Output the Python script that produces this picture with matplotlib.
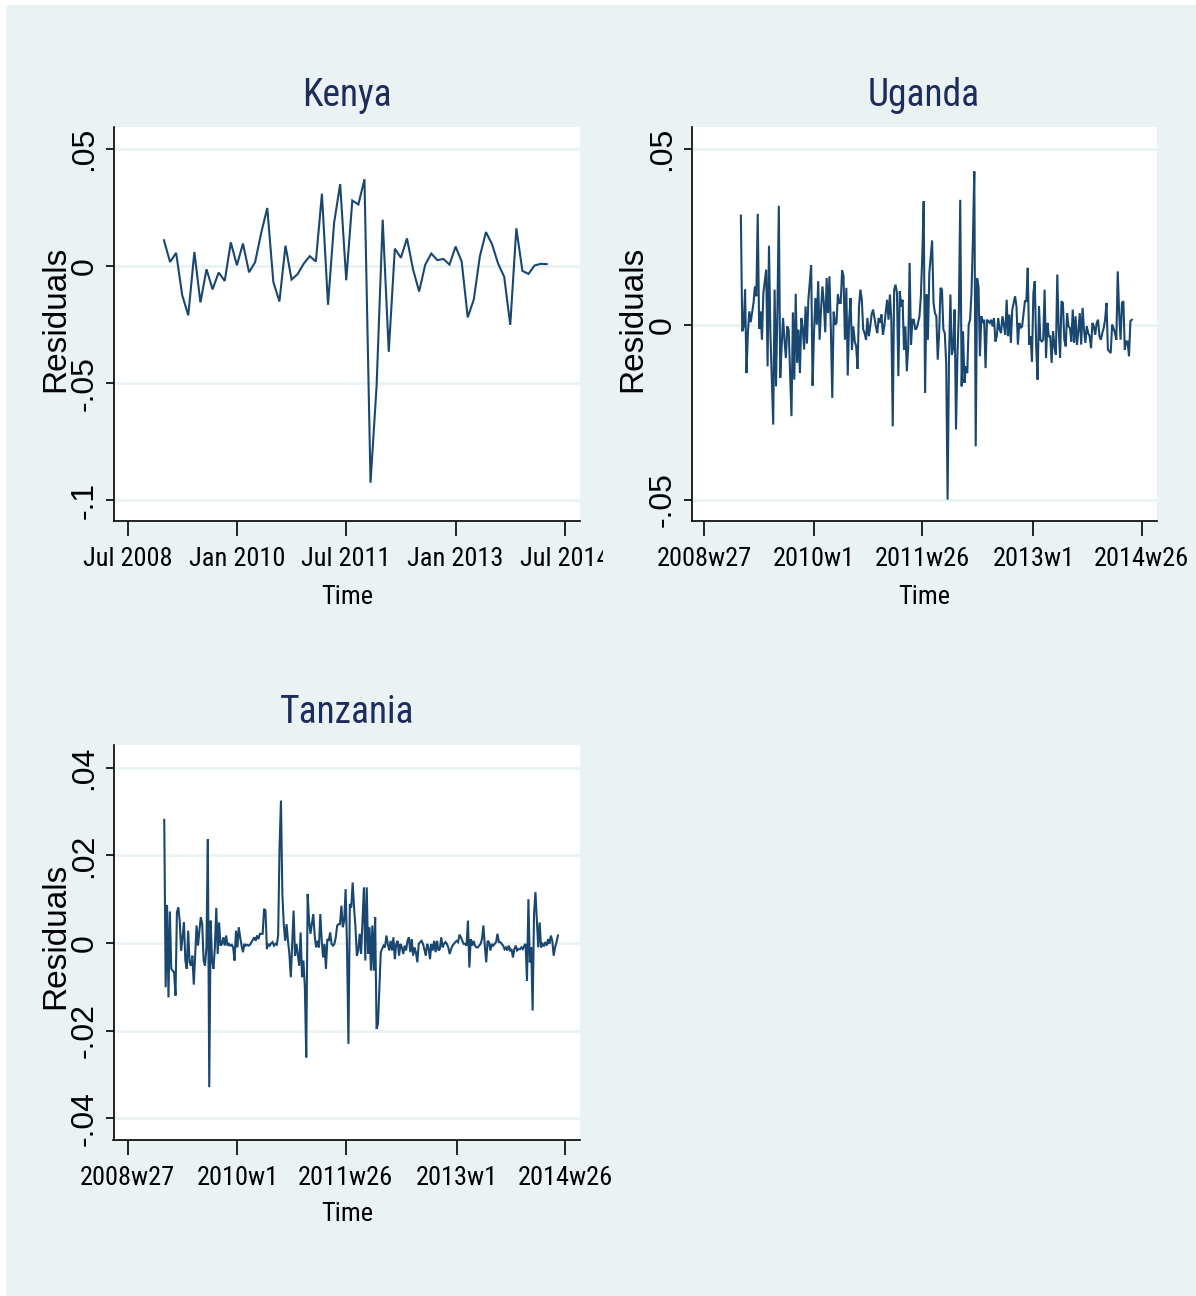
import numpy as np
import matplotlib
matplotlib.use("Agg")
import matplotlib.pyplot as plt
from matplotlib import font_manager
from matplotlib.patches import Rectangle
from matplotlib.transforms import Bbox, TransformedBbox

# ---------------- data ----------------
kenya_start = 588          # Stata monthly date: 2009m1
kenya_resid = [
    0.0111, 0.0018, 0.0057, -0.0124, -0.0210, 0.0061, -0.0155, -0.0013, -0.0099, -0.0027,
    -0.0063, 0.0102, 0.0004, 0.0097, -0.0026, 0.0017, 0.0142, 0.0249, -0.0067, -0.0151,
    0.0088, -0.0057, -0.0034, 0.0011, 0.0043, 0.0020, 0.0310, -0.0165, 0.0185, 0.0351,
    -0.0060, 0.0281, 0.0264, 0.0372, -0.0926, -0.0511, 0.0199, -0.0366, 0.0075, 0.0036,
    0.0119, -0.0014, -0.0108, 0.0006, 0.0054, 0.0026, 0.0031, 0.0007, 0.0084, 0.0020,
    -0.0219, -0.0142, 0.0043, 0.0146, 0.0094, 0.0011, -0.0045, -0.0251, 0.0162, -0.0020,
    -0.0033, 0.0003, 0.0010, 0.0009]
kenya_xticks = [582, 600, 618, 636, 654]
kenya_xlabels = ["Jul 2008", "Jan 2010", "Jul 2011", "Jan 2013", "Jul 2014"]
kenya_yticks = [-0.1, -0.05, 0, 0.05]
kenya_ylabels = ["-.1", "-.05", "0", ".05"]

uganda_start = 2548        # Stata weekly date: 2009w1
uganda_resid = [
    0.0311, -0.0019, -0.0005, 0.0100, -0.0138, -0.0024, 0.0038, 0.0007, 0.0035, 0.0062, 0.0109,
    0.0081, 0.0316, -0.0012, 0.0038, -0.0043, 0.0090, 0.0124, 0.0157, -0.0119, 0.0225, -0.0024,
    -0.0157, -0.0285, 0.0100, -0.0176, 0.0043, 0.0339, -0.0152, -0.0062, 0.0019, -0.0043,
    -0.0095, -0.0005, -0.0014, -0.0138, -0.0261, 0.0035, -0.0157, 0.0088, -0.0109, -0.0014,
    -0.0138, 0.0019, -0.0010, -0.0071, 0.0052, -0.0054, 0.0071, 0.0120, 0.0170, -0.0174, -0.0024,
    0.0076, 0.0000, 0.0124, -0.0043, 0.0043, 0.0109, 0.0062, -0.0022, 0.0133, 0.0033,
    0.0138, -0.0014, -0.0209, 0.0037, 0.0000, 0.0005, 0.0086, 0.0062, 0.0062, 0.0155,
    0.0138, -0.0043, 0.0105, -0.0145, 0.0014, 0.0076, -0.0071, -0.0005, -0.0048, -0.0062,
    -0.0126, 0.0052, 0.0100, 0.0071, -0.0014, -0.0024, -0.0043, 0.0019, -0.0033,
    -0.0005, 0.0029, 0.0043, 0.0020, -0.0005, -0.0024, 0.0019, 0.0005, 0.0029, -0.0029,
    -0.0005, 0.0035,
    0.0071, 0.0014, 0.0086, 0.0014, -0.0290, 0.0100, 0.0114, 0.0090, -0.0147, 0.0095,
    0.0052, 0.0071, -0.0071, -0.0005, -0.0133, -0.0062, 0.0176, -0.0057, 0.0014, 0.0014,
    -0.0014, -0.0010, 0.0005, 0.0024, 0.0081, 0.0195, 0.0352, -0.0195, 0.0086, -0.0043,
    0.0147, 0.0195, 0.0240, 0.0062, 0.0033, 0.0024, -0.0100, -0.0024, 0.0105, 0.0100,
    -0.0014, -0.0024, -0.0109, -0.0499, -0.0100, 0.0086, -0.0086, -0.0067, 0.0043, -0.0299,
    -0.0090, 0.0033, 0.0356, -0.0176, -0.0019, -0.0166, -0.0119, -0.0138, 0.0000, 0.0014,
    0.0090, 0.0242, 0.0437, -0.0347, 0.0133, 0.0109, -0.0090, 0.0024, 0.0005, 0.0014,
    -0.0124, 0.0014, 0.0010, 0.0005, 0.0014, -0.0005, 0.0019, -0.0048, -0.0033, 0.0019,
    -0.0014,
    -0.0024, 0.0024, 0.0000, -0.0029, 0.0071, -0.0033, 0.0029, -0.0052, 0.0043, 0.0062, 0.0081,
    0.0052, -0.0057, 0.0005, -0.0010, -0.0005, 0.0030, 0.0067, 0.0067, 0.0162, -0.0057, -0.0033,
    -0.0105, 0.0090, 0.0124, -0.0062, -0.0157, 0.0052, -0.0043, -0.0048, -0.0043, 0.0100,
    -0.0095, 0.0005, -0.0033, -0.0033, -0.0109, -0.0019, -0.0062, -0.0086, 0.0143, -0.0010,
    -0.0095, 0.0067, 0.0062, -0.0043, -0.0062, 0.0033, -0.0005, -0.0010, -0.0048,
    0.0043, -0.0052, 0.0024, -0.0057, -0.0019, 0.0033, -0.0057, 0.0048, -0.0014,
    -0.0052, -0.0005, -0.0024, -0.0033, -0.0067, 0.0005, -0.0005, -0.0029, 0.0005, 0.0014,
    -0.0033, -0.0043, -0.0024, -0.0010, 0.0014, 0.0062, -0.0071, -0.0076, -0.0081,
    0.0000, -0.0010, -0.0024, -0.0043, 0.0152, 0.0033, -0.0043, 0.0062, 0.0067, -0.0071,
    -0.0048, -0.0048, -0.0090, 0.0010, 0.0014]
weekly_xticks = [2522, 2600, 2677, 2756, 2833]
weekly_xlabels = ["2008w27", "2010w1", "2011w26", "2013w1", "2014w26"]
uganda_yticks = [-0.05, 0, 0.05]
uganda_ylabels = ["-.05", "0", ".05"]

tanzania_start = 2548      # Stata weekly date: 2009w1
tanzania_resid = [
    0.0281, -0.0101, 0.0087, -0.0124, 0.0072, -0.0059, -0.0063, -0.0067, -0.0120, 0.0070,
    0.0081, 0.0051, -0.0017, 0.0013, 0.0047, -0.0040, -0.0059, 0.0028, -0.0044, -0.0052,
    -0.0029, -0.0095, -0.0025, 0.0040, -0.0006, 0.0028, 0.0059, 0.0043, -0.0040, -0.0052,
    -0.0010, 0.0237, -0.0329, 0.0051, -0.0040, -0.0059, -0.0010, 0.0080, -0.0025, 0.0047,
    -0.0006, -0.0002, 0.0013, -0.0006, 0.0017, -0.0006, -0.0002, -0.0006, -0.0004, -0.0010,
    -0.0040, 0.0028, -0.0010, 0.0036, 0.0013, -0.0006, -0.0021, -0.0002, -0.0006, -0.0004,
    -0.0006, -0.0004, 0.0002, 0.0007, 0.0013, 0.0005, 0.0017, 0.0009, 0.0021, 0.0021,
    0.0021, 0.0078, 0.0074, -0.0014, -0.0002, -0.0006, -0.0001, 0.0002, -0.0006, -0.0002,
    -0.0004, 0.0017, 0.0218, 0.0325, 0.0112, 0.0043, 0.0005, 0.0043, 0.0005, -0.0025,
    -0.0078, 0.0000,
    0.0074, -0.0029, -0.0002, -0.0027, -0.0052, 0.0024, -0.0078, -0.0040, -0.0101, -0.0261, 0.0112,
    0.0051, 0.0021, 0.0043, 0.0066, 0.0017, -0.0010, 0.0005, -0.0010, 0.0066, 0.0005,
    -0.0033, -0.0002, -0.0059, 0.0009, 0.0005, 0.0024, -0.0002, -0.0006, -0.0002, 0.0013,
    0.0040, 0.0043, 0.0043, 0.0085, 0.0036, 0.0051, 0.0123, -0.0010, -0.0230, 0.0089,
    0.0081, 0.0138, 0.0081, 0.0036, -0.0029, -0.0017, 0.0021, -0.0025, 0.0051, 0.0127,
    -0.0040, 0.0127, -0.0025, 0.0036, -0.0063, 0.0040, -0.0063, 0.0059, -0.0196, -0.0185,
    -0.0101, -0.0021, -0.0013, -0.0006, -0.0010, 0.0017, -0.0002, -0.0017, 0.0005, -0.0017, 0.0013,
    -0.0037, -0.0002, 0.0005, -0.0029, -0.0002, -0.0010, -0.0025, -0.0006, -0.0017, 0.0005,
    0.0013, -0.0021, 0.0009, -0.0029, -0.0010, -0.0021, -0.0044, -0.0002, 0.0002, 0.0005,
    -0.0002, -0.0014, -0.0029, -0.0002, -0.0010, -0.0037, -0.0002, -0.0017, 0.0005, -0.0021,
    0.0005, -0.0017, -0.0014, 0.0013, -0.0010, -0.0002, 0.0002, -0.0002, -0.0010, -0.0025,
    -0.0014, -0.0006, -0.0002, 0.0002, 0.0005, 0.0002, 0.0019, 0.0013, 0.0005, -0.0002,
    -0.0002, -0.0006, 0.0051, -0.0056, 0.0009, -0.0006, 0.0005, -0.0006, -0.0010, -0.0010,
    -0.0006, -0.0002, 0.0009, 0.0040, -0.0006, -0.0044, 0.0005, 0.0002, -0.0017, -0.0002,
    -0.0006, -0.0002, 0.0002, 0.0021, 0.0002, 0.0002, -0.0002, -0.0006, -0.0014, -0.0010,
    -0.0017, -0.0006, -0.0017, -0.0014, -0.0033, -0.0014, -0.0006, -0.0017, -0.0014, -0.0014,
    -0.0010, -0.0014, -0.0006, -0.0002, -0.0086, 0.0100, -0.0044, -0.0010, -0.0154, 0.0066,
    0.0116, 0.0051, -0.0010, 0.0047, -0.0010, -0.0002, -0.0006, 0.0002, -0.0006, 0.0009,
    -0.0002, 0.0017, 0.0005, -0.0029, -0.0010, 0.0002, 0.0017]
tanzania_yticks = [-0.04, -0.02, 0, 0.02, 0.04]
tanzania_ylabels = ["-.04", "-.02", "0", ".02", ".04"]

titles = ["Kenya", "Uganda", "Tanzania"]
xtitle = "Time"
ytitle = "Residuals"

# ---------------- style ----------------
W, H = 1196, 1296
BG = "#EAF2F3"
LINE = "#1A476F"
TITLE_C = "#1C2D5C"

avail = {f.name for f in font_manager.fontManager.ttflist}
NARROW = next((f for f in ["Roboto Condensed", "PT Sans Narrow", "Archivo Narrow",
                           "Liberation Sans"] if f in avail), "DejaVu Sans")
REG = "Liberation Sans" if "Liberation Sans" in avail else "DejaVu Sans"

fig = plt.figure(figsize=(W / 100, H / 100), dpi=100, facecolor="white")
fig.patches.append(Rectangle((6 / W, 0), 1, 1 - 5 / H, transform=fig.transFigure,
                             facecolor=BG, edgecolor="none", zorder=-10))


def add_ax(x0, y0, x1, y1):
    return fig.add_axes([x0 / W, 1 - y1 / H, (x1 - x0) / W, (y1 - y0) / H])


def style(ax, x, y, xlim, ylim, xticks, xlabels, yticks, ylabels):
    ax.plot(x, y, color=LINE, lw=1.5, solid_joinstyle="miter", zorder=3)
    ax.set_xlim(*xlim)
    ax.set_ylim(*ylim)
    ax.set_facecolor("white")
    for s in ["top", "right"]:
        ax.spines[s].set_visible(False)
    for s in ["left", "bottom"]:
        ax.spines[s].set_linewidth(1.2)
        ax.spines[s].set_color("black")
    ax.set_xticks(xticks)
    ax.set_xticklabels(xlabels, fontsize=19, family=NARROW)
    ax.set_yticks(yticks)
    ax.set_yticklabels(ylabels, rotation=90, va="center", ha="right",
                       fontsize=23, family=REG)
    ax.tick_params(axis="x", direction="out", length=10.8, width=1.2, pad=8)
    ax.tick_params(axis="y", direction="out", length=6, width=1.2, pad=4)
    ax.yaxis.grid(True, color=BG, lw=2.0)
    ax.xaxis.grid(False)
    ax.set_axisbelow(True)


# Kenya
ax1 = add_ax(113.5, 126.7, 580, 521)
kx = np.arange(kenya_start, kenya_start + len(kenya_resid))
style(ax1, kx, kenya_resid, (579.69, 656.48), (-0.10898, 0.05967),
      kenya_xticks, kenya_xlabels, kenya_yticks, kenya_ylabels)

# Uganda
ax2 = add_ax(691.5, 126.7, 1156.7, 521)
ux = np.arange(uganda_start, uganda_start + len(uganda_resid))
style(ax2, ux, uganda_resid, (2512.9, 2843.7), (-0.05599, 0.05645),
      weekly_xticks, weekly_xlabels, uganda_yticks, uganda_ylabels)

# Tanzania
ax3 = add_ax(113.5, 745, 580, 1140)
tx = np.arange(tanzania_start, tanzania_start + len(tanzania_resid))
style(ax3, tx, tanzania_resid, (2511.9, 2843.7), (-0.04495, 0.04518),
      weekly_xticks, weekly_xlabels, tanzania_yticks, tanzania_ylabels)

# clip the last Kenya tick label at the subgraph edge (as in the reference)
clip = TransformedBbox(Bbox.from_extents(0, 0, 603 / W, 1), fig.transFigure)
lab = ax1.get_xticklabels()[-1]
lab.set_clip_on(True)
lab.set_clip_box(clip)

# titles and axis titles (baseline positions in pixels)
for (cx, by), t in zip([(347, 106), (924, 106), (347, 723)], titles):
    fig.text(cx / W, 1 - by / H, t, ha="center", va="baseline",
             fontsize=27, family=NARROW, color=TITLE_C)
for cx, by in [(347, 604), (924, 604), (347, 1221)]:
    fig.text(cx / W, 1 - by / H, xtitle, ha="center", va="baseline",
             fontsize=19, family=NARROW, color="black")
for cx, cy in [(56, 319), (633, 319), (56, 936)]:
    fig.text(cx / W, 1 - cy / H, ytitle, ha="center", va="center", rotation=90,
             fontsize=24, family=REG, color="black")

fig.savefig("out.png", dpi=100, facecolor=fig.get_facecolor())
